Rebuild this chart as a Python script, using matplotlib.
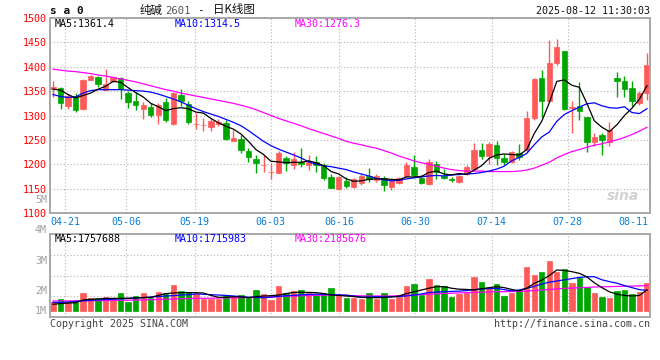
import matplotlib
matplotlib.use("Agg")
import matplotlib.pyplot as plt
from matplotlib.transforms import blended_transform_factory

W, H = 660, 360

# trading-day candles 04-17 .. 08-12
opens = [1354, 1357, 1319, 1341, 1314, 1373, 1378, 1353, 1370, 1376,
         1347, 1330, 1313, 1317, 1301, 1328, 1283, 1342, 1323, 1282,
         1280, 1276, 1283, 1284, 1248, 1251, 1228, 1211, 1198, 1184,
         1183, 1212, 1198, 1205, 1198, 1205, 1199, 1173, 1149, 1166,
         1154, 1162, 1175, 1168, 1171, 1153, 1162, 1176, 1195, 1171,
         1160, 1200, 1176, 1169, 1164, 1180, 1190, 1229, 1216, 1240,
         1213, 1205, 1224, 1229, 1295, 1377, 1329, 1407, 1432, 1316,
         1319, 1297, 1246, 1260, 1246, 1377, 1371, 1356, 1326, 1346]
highs = [1370, 1358, 1344, 1346, 1375, 1383, 1381, 1395, 1380, 1378,
         1350, 1349, 1327, 1325, 1325, 1335, 1348, 1354, 1330, 1305,
         1295, 1294, 1292, 1290, 1270, 1260, 1233, 1219, 1219, 1203,
         1228, 1217, 1225, 1233, 1218, 1216, 1203, 1179, 1176, 1173,
         1172, 1181, 1192, 1180, 1176, 1169, 1173, 1205, 1219, 1178,
         1210, 1207, 1190, 1174, 1178, 1198, 1244, 1244, 1246, 1247,
         1221, 1228, 1241, 1309, 1377, 1394, 1455, 1457, 1433, 1330,
         1369, 1297, 1264, 1265, 1287, 1390, 1382, 1371, 1351, 1429]
lows = [1337, 1314, 1314, 1308, 1311, 1372, 1358, 1352, 1368, 1334,
        1316, 1312, 1293, 1296, 1283, 1287, 1280, 1320, 1283, 1272,
        1269, 1268, 1279, 1250, 1247, 1224, 1205, 1183, 1185, 1170,
        1182, 1186, 1190, 1195, 1188, 1185, 1167, 1151, 1148, 1151,
        1152, 1158, 1164, 1164, 1146, 1147, 1160, 1173, 1174, 1159,
        1157, 1170, 1169, 1164, 1162, 1178, 1187, 1210, 1201, 1199,
        1199, 1203, 1209, 1226, 1291, 1297, 1328, 1404, 1312, 1264,
        1291, 1226, 1237, 1218, 1237, 1338, 1337, 1320, 1321, 1331]
closes = [1358, 1325, 1339, 1312, 1372, 1381, 1364, 1365, 1378, 1354,
          1328, 1322, 1321, 1301, 1321, 1290, 1346, 1330, 1287, 1283,
          1281, 1289, 1287, 1251, 1253, 1229, 1214, 1202, 1199, 1185,
          1224, 1202, 1210, 1200, 1205, 1199, 1171, 1152, 1174, 1156,
          1170, 1176, 1170, 1176, 1158, 1166, 1171, 1198, 1178, 1162,
          1205, 1185, 1171, 1167, 1176, 1195, 1230, 1216, 1241, 1213,
          1205, 1225, 1214, 1295, 1375, 1330, 1408, 1440, 1314, 1317,
          1310, 1246, 1256, 1250, 1271, 1370, 1355, 1330, 1346, 1403]

ma5 = [1354, 1352, 1343, 1336, 1341, 1346, 1354, 1360, 1370, 1368,
       1357, 1347, 1338, 1325, 1318, 1310, 1314, 1316, 1314, 1307,
       1305, 1294, 1285, 1278, 1272, 1262, 1247, 1230, 1220, 1206,
       1205, 1203, 1204, 1204, 1207, 1203, 1197, 1185, 1180, 1170,
       1165, 1166, 1169, 1170, 1170, 1169, 1168, 1174, 1174, 1175,
       1183, 1186, 1180, 1178, 1181, 1179, 1188, 1197, 1212, 1219,
       1221, 1220, 1219, 1230, 1263, 1288, 1326, 1370, 1373, 1362,
       1358, 1325, 1289, 1276, 1267, 1281, 1300, 1315, 1334, 1361]
ma10 = [1343, 1339, 1337, 1338, 1346, 1351, 1353, 1353, 1353, 1353,
        1352, 1351, 1350, 1348, 1344, 1339, 1334, 1328, 1321, 1314,
        1308, 1303, 1298, 1292, 1286, 1279, 1269, 1258, 1247, 1238,
        1231, 1225, 1219, 1213, 1205, 1200, 1197, 1195, 1192, 1189,
        1184, 1180, 1176, 1171, 1168, 1166, 1167, 1170, 1172, 1174,
        1176, 1177, 1176, 1178, 1179, 1180, 1181, 1183, 1186, 1190,
        1196, 1207, 1214, 1222, 1240, 1256, 1266, 1288, 1302, 1310,
        1317, 1324, 1326, 1320, 1316, 1315, 1318, 1306, 1304, 1314]
ma30 = [1395, 1393, 1391, 1390, 1388, 1386, 1383, 1381, 1378, 1375,
        1372, 1369, 1365, 1361, 1357, 1353, 1350, 1346, 1343, 1340,
        1337, 1334, 1331, 1328, 1325, 1321, 1317, 1312, 1306, 1300,
        1294, 1289, 1284, 1279, 1273, 1268, 1263, 1258, 1253, 1247,
        1243, 1240, 1236, 1233, 1228, 1223, 1217, 1212, 1207, 1203,
        1200, 1196, 1192, 1189, 1187, 1186, 1186, 1186, 1185, 1185,
        1185, 1185, 1186, 1188, 1192, 1198, 1204, 1213, 1220, 1226,
        1230, 1235, 1239, 1242, 1246, 1250, 1255, 1261, 1268, 1276]

# volume, millions of lots
volume_m = [0.78, 1.00, 0.72, 0.78, 1.53, 1.06, 1.06, 1.19, 1.06, 1.53,
            0.78, 1.25, 1.53, 1.06, 1.61, 1.53, 2.17, 1.67, 1.61, 1.42,
            1.00, 1.00, 1.00, 1.33, 1.19, 1.33, 1.06, 1.75, 1.42, 0.92,
            2.08, 1.53, 1.67, 1.75, 1.47, 1.33, 1.47, 1.94, 1.33, 1.11,
            1.11, 1.00, 1.53, 1.00, 1.53, 1.00, 1.19, 2.11, 2.25, 1.33,
            2.67, 2.17, 2.08, 1.19, 1.42, 1.53, 2.86, 2.44, 1.81, 2.25,
            1.25, 1.47, 1.75, 3.69, 3.00, 3.28, 4.17, 3.28, 3.50, 2.36,
            2.78, 2.03, 1.53, 1.19, 1.11, 1.67, 1.75, 1.42, 1.61, 2.36]
vol_ma5 = [0.56, 0.62, 0.66, 0.69, 0.92, 0.98, 1.00, 1.05, 1.05, 1.06,
           1.06, 1.09, 1.12, 1.14, 1.30, 1.45, 1.50, 1.53, 1.53, 1.53,
           1.50, 1.30, 1.14, 1.14, 1.19, 1.17, 1.11, 1.20, 1.25, 1.28,
           1.33, 1.45, 1.55, 1.56, 1.55, 1.53, 1.45, 1.33, 1.30, 1.25,
           1.20, 1.14, 1.12, 1.11, 1.13, 1.17, 1.25, 1.45, 1.60, 1.75,
           1.90, 2.03, 2.03, 1.90, 1.82, 1.80, 1.75, 1.85, 1.95, 2.03,
           1.95, 1.80, 1.67, 1.90, 2.30, 2.58, 2.95, 3.42, 3.38, 3.28,
           3.14, 2.85, 2.35, 1.95, 1.60, 1.40, 1.30, 1.25, 1.30, 1.76]
vol_ma10 = [0.72, 0.72, 0.75, 0.80, 0.85, 0.88, 0.92, 0.95, 0.98, 1.02,
            1.05, 1.08, 1.12, 1.16, 1.20, 1.25, 1.28, 1.33, 1.36, 1.42,
            1.40, 1.36, 1.33, 1.30, 1.25, 1.20, 1.15, 1.13, 1.11, 1.15,
            1.22, 1.27, 1.31, 1.35, 1.38, 1.40, 1.40, 1.36, 1.34, 1.33,
            1.25, 1.16, 1.17, 1.19, 1.19, 1.19, 1.20, 1.26, 1.33, 1.42,
            1.54, 1.58, 1.61, 1.63, 1.66, 1.70, 1.78, 1.84, 1.86, 1.89,
            1.78, 1.68, 1.75, 1.89, 2.05, 2.25, 2.40, 2.50, 2.60, 2.70,
            2.80, 2.85, 2.86, 2.60, 2.45, 2.32, 2.12, 1.95, 1.78, 1.72]
vol_ma30 = [0.83, 0.84, 0.84, 0.85, 0.85, 0.86, 0.86, 0.87, 0.88, 0.89,
            0.90, 0.91, 0.92, 0.94, 0.96, 0.98, 1.00, 1.02, 1.04, 1.05,
            1.06, 1.07, 1.08, 1.09, 1.10, 1.11, 1.12, 1.14, 1.16, 1.18,
            1.21, 1.23, 1.25, 1.27, 1.29, 1.31, 1.32, 1.33, 1.31, 1.29,
            1.27, 1.26, 1.26, 1.25, 1.25, 1.25, 1.27, 1.30, 1.33, 1.36,
            1.40, 1.43, 1.46, 1.48, 1.51, 1.53, 1.55, 1.57, 1.59, 1.61,
            1.61, 1.62, 1.63, 1.67, 1.71, 1.75, 1.80, 1.84, 1.89, 1.91,
            1.94, 1.97, 2.00, 2.02, 2.03, 2.05, 2.07, 2.08, 2.10, 2.12]

tick_idx = [2, 10, 19, 29, 38, 48, 58, 68, 78]
tick_dates = ["04-21", "05-06", "05-19", "06-03", "06-16",
              "06-30", "07-14", "07-28", "08-11"]
price_ticks = [1100, 1150, 1200, 1250, 1300, 1350, 1400, 1450, 1500]
vol_axis_labels = ["5M", "4M", "3M", "2M", "1M"]

RED = "#ff5a5a"
GREEN = "#00a600"
BLUE_TXT = "#0a7fd6"
GRID = "#b4b4b4"
FRAME = "#a8a8a8"
FS = 7.2

plt.rcParams["font.family"] = ["DejaVu Sans Mono", "Noto Sans CJK SC"]


def fx(px):
    return px / W


def fy(py):
    return 1 - py / H


fig = plt.figure(figsize=(W / 100, H / 100), dpi=100)
ax = fig.add_axes([fx(50), fy(213), 600 / W, 195 / H])
axv = fig.add_axes([fx(50), fy(317), 600 / W, 83 / H])

x = list(range(len(closes)))
colors = [RED if c >= o else GREEN for o, c in zip(opens, closes)]
bottoms = [min(o, c) for o, c in zip(opens, closes)]
heights = [abs(c - o) for o, c in zip(opens, closes)]
# grid lines sit on a slightly wider spacing than the candles
grid_pos = [i * 1.0125 - 0.40 for i in tick_idx]

for a in (ax, axv):
    a.set_xlim(-0.4, len(x) - 0.6)
    for s in a.spines.values():
        s.set_color(FRAME)
        s.set_linewidth(1.4)
    a.set_xticks(grid_pos[:-1])
    a.set_xticklabels([])
    a.tick_params(length=0)
    a.grid(True, color=GRID, linestyle=(0, (1, 2)), linewidth=0.8)
    a.set_axisbelow(True)

# price panel
ax.vlines(x, lows, highs, colors=colors, linewidth=1.0)
ax.bar(x, heights, bottom=bottoms, width=0.72, color=colors,
       edgecolor=colors, linewidth=0.5)
ax.plot(x, ma30, color="#ff00ff", linewidth=0.9)
ax.plot(x, ma10, color="#0000ff", linewidth=0.9)
ax.plot(x, ma5, color="black", linewidth=0.9)
ax.set_ylim(1100, 1500)
ax.set_yticks(price_ticks)
ax.set_yticklabels([str(v) for v in price_ticks])
ax.tick_params(axis="y", pad=2.5, labelcolor="red", labelsize=FS)

trans = blended_transform_factory(ax.transData, ax.transAxes)
for pos, lab in zip(grid_pos[:-1], tick_dates[:-1]):
    ax.text(pos, -0.046, lab, transform=trans, ha="center", va="center",
            color=BLUE_TXT, fontsize=FS)
ax.text(0.997, -0.046, tick_dates[-1], transform=ax.transAxes,
        ha="right", va="center", color=BLUE_TXT, fontsize=FS)

ax.text(0.007, 0.969, "MA5:1361.4", transform=ax.transAxes,
        va="center", color="black", fontsize=FS)
ax.text(0.208, 0.969, "MA10:1314.5", transform=ax.transAxes,
        va="center", color="#0000ff", fontsize=FS)
ax.text(0.408, 0.969, "MA30:1276.3", transform=ax.transAxes,
        va="center", color="#ff00ff", fontsize=FS)
ax.text(0.955, 0.085, "sina", transform=ax.transAxes, ha="center",
        va="center", color="#d2d2d2", fontsize=10, fontweight="bold",
        style="italic", family="DejaVu Sans")

# volume panel
axv.bar(x, volume_m, width=0.72, color=colors, edgecolor=colors,
        linewidth=0.5)
axv.plot(x, vol_ma30, color="#ff00ff", linewidth=0.9)
axv.plot(x, vol_ma10, color="#0000ff", linewidth=0.9)
axv.plot(x, vol_ma5, color="black", linewidth=0.9)
v_lo, v_hi = -0.5, 6.42
axv.set_ylim(v_lo, v_hi)
axv.set_yticks([v_lo + (v_hi - v_lo) * f for f in (0.25, 0.5, 0.75)])
axv.set_yticklabels([])

axv.text(0.007, 0.94, "MA5:1757688", transform=axv.transAxes,
         va="center", color="black", fontsize=FS)
axv.text(0.208, 0.94, "MA10:1715983", transform=axv.transAxes,
         va="center", color="#0000ff", fontsize=FS)
axv.text(0.408, 0.94, "MA30:2185676", transform=axv.transAxes,
         va="center", color="#ff00ff", fontsize=FS)

for lab, ypx in zip(vol_axis_labels, [200, 230, 260.5, 290.5, 310.5]):
    fig.text(fx(47), fy(ypx), lab, ha="right", va="center",
             color="#a0a0a0", fontsize=FS)

# header and footer
fig.text(fx(50), fy(11), "s a 0", va="center", fontsize=8,
         fontweight="bold", color="#111111")
fig.text(fx(140), fy(10), "纯碱", va="center", fontsize=8.3,
         family=["Noto Sans CJK SC"], color="#111111")
fig.text(fx(165), fy(10.5), "2601", va="center", fontsize=7.6,
         color="#555555")
fig.text(fx(200), fy(10), "-", ha="center", va="center", fontsize=8,
         color="#111111")
fig.text(fx(213), fy(10), "日K线图", va="center", fontsize=8.3,
         family=["Noto Sans CJK SC"], color="#111111")
fig.text(fx(650), fy(11), "2025-08-12 11:30:03", ha="right", va="center",
         fontsize=FS, color="#111111")
fig.text(fx(50), fy(324), "Copyright 2025 SINA.COM", va="center",
         fontsize=FS, color="#444444")
fig.text(fx(650), fy(324), "http://finance.sina.com.cn", ha="right",
         va="center", fontsize=FS, color="#444444")

fig.savefig("out.png", dpi=100)
plt.close(fig)
